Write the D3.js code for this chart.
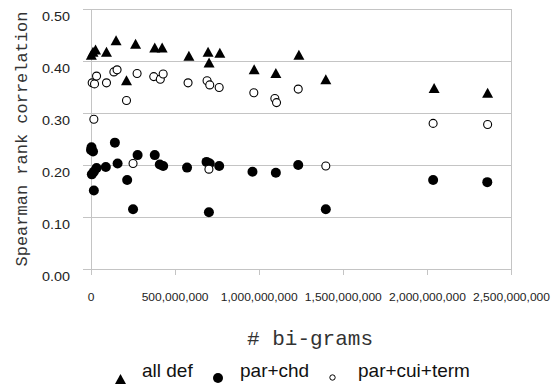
<!DOCTYPE html>
<html>
<head>
<meta charset="utf-8">
<script src="https://cdn.jsdelivr.net/npm/d3@7"></script>
<style>
  body { margin: 0; background: #fff; }
  svg { display: block; }
</style>
</head>
<body>
<div id="chart"></div>
<script>
// x values are in millions of bi-grams
const allDef = [
  [5, 0.412], [15, 0.418], [30, 0.422], [95, 0.418], [152, 0.440], [214, 0.363],
  [268, 0.433], [382, 0.426], [426, 0.426], [585, 0.410], [699, 0.418], [705, 0.397],
  [769, 0.416], [973, 0.384], [1102, 0.377], [1239, 0.412], [1399, 0.365],
  [2043, 0.348], [2361, 0.339]
];
const parChd = [
  [3, 0.229], [6, 0.234], [15, 0.226], [8, 0.182], [20, 0.187], [36, 0.194], [20, 0.151],
  [91, 0.196], [145, 0.243], [161, 0.203], [218, 0.171], [253, 0.115], [280, 0.219],
  [382, 0.219], [412, 0.201], [432, 0.198], [574, 0.195], [690, 0.206], [709, 0.203],
  [704, 0.109], [765, 0.198], [963, 0.187], [1102, 0.185], [1235, 0.200], [1399, 0.115],
  [2037, 0.171], [2359, 0.167]
];
const parCuiTerm = [
  [10, 0.358], [24, 0.356], [36, 0.371], [20, 0.288], [95, 0.358], [139, 0.379],
  [158, 0.383], [214, 0.324], [253, 0.203], [277, 0.376], [376, 0.370], [415, 0.365],
  [432, 0.375], [580, 0.358], [693, 0.362], [709, 0.354], [704, 0.192], [765, 0.349],
  [971, 0.339], [1096, 0.328], [1106, 0.320], [1235, 0.346], [1399, 0.198],
  [2037, 0.280], [2361, 0.278]
];
const xTicks = [0, 500, 1000, 1500, 2000, 2500];
const yTicks = [0, 0.1, 0.2, 0.3, 0.4, 0.5];
const seriesNames = ["all def", "par+chd", "par+cui+term"];

const W = 554, H = 385;
const svg = d3.select("#chart").append("svg")
  .attr("width", W).attr("height", H);

const x = d3.scaleLinear().domain([0, 2500]).range([90.5, 511]);
const y = d3.scaleLinear().domain([0, 0.5]).range([269, 9]);

const gridColor = "#c4c4c4";
const textColor = "#222";

// horizontal grid lines
svg.append("g")
  .attr("transform", `translate(${x(0)},0)`)
  .call(d3.axisLeft(y).tickValues(yTicks).tickSize(-(x(2500) - x(0))).tickFormat(""))
  .call(g => g.select(".domain").remove())
  .call(g => g.selectAll("line").attr("stroke", gridColor).attr("shape-rendering", "crispEdges"));

// y axis with outward ticks
svg.append("g")
  .attr("transform", `translate(${x(0)},0)`)
  .call(d3.axisLeft(y).tickValues(yTicks).tickSize(8).tickSizeOuter(0).tickFormat(d3.format(".2f")))
  .call(g => g.select(".domain").attr("stroke", gridColor).attr("shape-rendering", "crispEdges"))
  .call(g => g.selectAll("line").attr("stroke", gridColor).attr("shape-rendering", "crispEdges"))
  .call(g => g.selectAll("text")
    .attr("x", -17).attr("dy", "0.92em")
    .attr("transform", "scale(1.2,1)")
    .attr("fill", textColor)
    .style("font", "12px 'Liberation Sans', Arial, sans-serif"));

// right border of plot area
svg.append("line")
  .attr("x1", x(2500)).attr("x2", x(2500))
  .attr("y1", y(0.5)).attr("y2", y(0))
  .attr("stroke", gridColor).attr("shape-rendering", "crispEdges");

// x axis
svg.append("g")
  .attr("transform", `translate(0,${y(0)})`)
  .call(d3.axisBottom(x).tickValues(xTicks).tickSize(6).tickSizeOuter(0)
    .tickFormat(d => d3.format(",")(d * 1e6)))
  .call(g => g.select(".domain").attr("stroke", gridColor).attr("shape-rendering", "crispEdges"))
  .call(g => g.selectAll("line").attr("stroke", gridColor).attr("shape-rendering", "crispEdges"))
  .call(g => g.selectAll("text")
    .attr("y", 32).attr("dy", "0")
    .attr("transform", "scale(1.17,1)")
    .attr("fill", textColor)
    .style("font", "10.3px 'Liberation Sans', Arial, sans-serif"));

// axis titles
svg.append("text")
  .attr("transform", `translate(27,${(y(0) + y(0.5)) / 2}) rotate(-90)`)
  .attr("text-anchor", "middle")
  .attr("fill", "#333")
  .style("font", "17px 'Liberation Mono', 'Courier New', monospace")
  .text("Spearman rank correlation");

svg.append("text")
  .attr("x", 247).attr("y", 345)
  .attr("fill", "#333")
  .style("font", "21px 'Liberation Mono', 'Courier New', monospace")
  .text("# bi-grams");

// markers
const tri = s => `M0,${-s / 2}L${s / 2 + 0.5},${s / 2}L${-s / 2 - 0.5},${s / 2}Z`;

svg.append("g").selectAll("path")
  .data(allDef).join("path")
  .attr("transform", d => `translate(${x(d[0])},${y(d[1])})`)
  .attr("d", tri(10))
  .attr("fill", "#000");

svg.append("g").selectAll("circle")
  .data(parChd).join("circle")
  .attr("cx", d => x(d[0])).attr("cy", d => y(d[1]))
  .attr("r", 5)
  .attr("fill", "#000");

svg.append("g").selectAll("circle")
  .data(parCuiTerm).join("circle")
  .attr("cx", d => x(d[0])).attr("cy", d => y(d[1]))
  .attr("r", 4)
  .attr("fill", "#fff").attr("stroke", "#000").attr("stroke-width", 1.1);

// legend
const legend = svg.append("g");
legend.append("path")
  .attr("transform", "translate(120.5,379)")
  .attr("d", tri(10)).attr("fill", "#000");
legend.append("circle")
  .attr("cx", 218).attr("cy", 378).attr("r", 5).attr("fill", "#000");
legend.append("circle")
  .attr("cx", 332.5).attr("cy", 377.5).attr("r", 2.7)
  .attr("fill", "#fff").attr("stroke", "#000").attr("stroke-width", 1);

legend.selectAll("text")
  .data(seriesNames).join("text")
  .attr("x", (d, i) => [142, 240, 358][i])
  .attr("y", 377)
  .attr("fill", "#111")
  .style("font", "19px 'Liberation Sans', Arial, sans-serif")
  .text(d => d);
</script>
</body>
</html>
